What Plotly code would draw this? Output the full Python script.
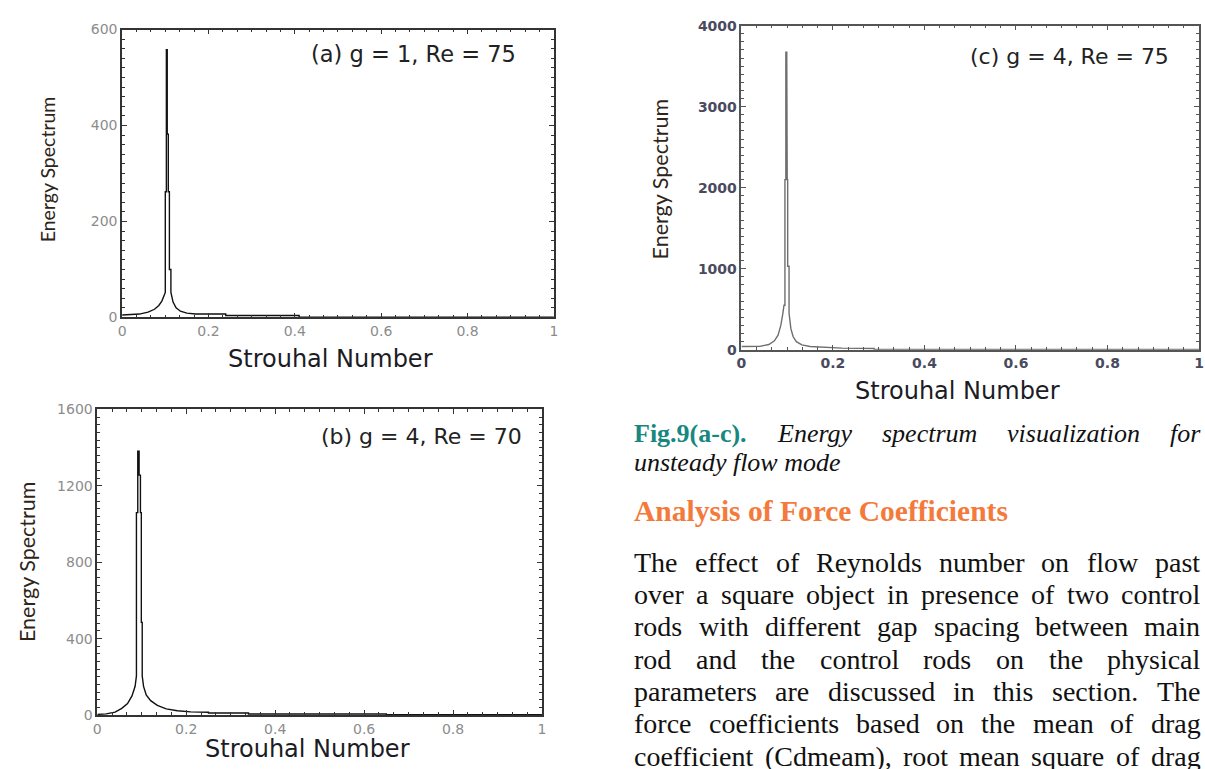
import plotly.graph_objects as go

W, H = 1205, 769

# ---- spectrum data: Strouhal number vs. energy ----
st_a = [0.000, 0.040, 0.060, 0.075, 0.085, 0.092, 0.097, 0.100, 0.100, 0.1025, 0.1025, 0.1045,
        0.1045, 0.107, 0.107, 0.1095, 0.1095, 0.113, 0.113, 0.118, 0.125, 0.135, 0.150, 0.170,
        0.240, 0.240, 0.410, 0.410, 1.000]
es_a = [5, 7, 11, 17, 25, 34, 45, 52, 262, 262, 558, 558, 382, 382, 262, 262, 100, 100, 52,
        32, 20, 13, 9, 7, 7, 4, 4, 0.5, 0.5]

st_b = [0.000, 0.020, 0.040, 0.055, 0.068, 0.078, 0.085, 0.088, 0.088, 0.091, 0.091, 0.094,
        0.094, 0.097, 0.097, 0.099, 0.099, 0.101, 0.101, 0.104, 0.110, 0.120, 0.135, 0.155,
        0.180, 0.210, 0.250, 0.250, 0.340, 0.340, 0.650, 0.650, 1.000]
es_b = [3, 6, 15, 35, 60, 100, 150, 205, 1060, 1060, 1382, 1382, 1256, 1256, 1060, 1060, 485,
        485, 205, 150, 105, 75, 50, 32, 22, 16, 14, 10, 10, 5, 5, 1, 1]

st_c = [0.000, 0.040, 0.060, 0.072, 0.080, 0.086, 0.090, 0.093, 0.095, 0.095, 0.097, 0.097,
        0.099, 0.099, 0.100, 0.100, 0.101, 0.101, 0.104, 0.104, 0.108, 0.113, 0.120, 0.132,
        0.150, 0.180, 0.220, 0.290, 0.290, 1.000]
es_c = [40, 42, 65, 110, 180, 300, 430, 550, 550, 2100, 2100, 3672, 3672, 2643, 2643, 2100,
        2100, 1030, 1030, 450, 260, 160, 100, 60, 40, 28, 20, 15, 3, 3]

x_ticks = [0, 0.2, 0.4, 0.6, 0.8, 1]
x_labels = ["0", "0.2", "0.4", "0.6", "0.8", "1"]
y_ticks_a = [0, 200, 400, 600]
y_ticks_b = [0, 400, 800, 1200, 1600]
y_ticks_c = [0, 1000, 2000, 3000, 4000]

panel_titles = ["(a) g = 1, Re = 75", "(b) g = 4, Re = 70", "(c) g = 4, Re = 75"]
x_title = "Strouhal Number"
y_title = "Energy Spectrum"

caption_head = "Fig.9(a-c)."
caption_line1 = "Energy spectrum visualization for"
caption_line2 = "unsteady flow mode"
section_title = "Analysis of Force Coefficients"
paragraph = [
    "The effect of Reynolds number on flow past",
    "over a square object in presence of two control",
    "rods with different gap spacing between main",
    "rod and the control rods on the physical",
    "parameters are discussed in this section. The",
    "force coefficients based on the mean of drag",
    "coefficient (Cdmeam), root mean square of drag",
]


def px(x):
    return x / W


def py(y):
    return 1 - y / H


fig = go.Figure()

panels = [
    dict(st=st_a, es=es_a, ax="", xd=(118, 553), yd=(22, 316), yt=y_ticks_a, col="#111111"),
    dict(st=st_b, es=es_b, ax="2", xd=(93, 541), yd=(410, 722), yt=y_ticks_b, col="#111111"),
    dict(st=st_c, es=es_c, ax="3", xd=(742, 1203), yd=(18, 349), yt=y_ticks_c, col="#6e6e6e"),
]

for i, p in enumerate(panels):
    fig.add_trace(go.Scatter(
        x=p["st"], y=p["es"], mode="lines",
        line=dict(color=p["col"], width=1.4),
        xaxis="x" + p["ax"], yaxis="y" + p["ax"], showlegend=False, hoverinfo="skip",
    ))
    bold = (i == 2)
    tick_font = dict(family="DejaVu Sans", size=14,
                     color="#4a4a5e" if bold else "#8c8c8c",
                     weight="bold" if bold else "normal")
    ymax = p["yt"][-1]
    axcol = "#333333" if not bold else "#555555"
    common = dict(showgrid=False, zeroline=False, showline=True, linecolor=axcol, linewidth=1.6,
                  mirror="allticks", ticks="inside", tickcolor=axcol, tickwidth=1.3, ticklen=5,
                  tickfont=tick_font)
    fig.update_layout(**{
        "xaxis" + p["ax"]: dict(
            domain=[px(p["xd"][0]), px(p["xd"][1])], range=[0, 1],
            anchor="y" + p["ax"], tickvals=x_ticks, ticktext=x_labels,
            minor=dict(ticks="inside", ticklen=3, dtick=0.2 / 6, tickcolor=axcol, tickwidth=1),
            **common),
        "yaxis" + p["ax"]: dict(
            domain=[py(p["yd"][1]), py(p["yd"][0])], range=[0, ymax],
            anchor="x" + p["ax"], tickvals=p["yt"],
            minor=dict(ticks="inside", ticklen=3, dtick=(p["yt"][1] - p["yt"][0]) / 10,
                       tickcolor=axcol, tickwidth=1),
            **common),
    })

annotations = []

# panel labels and axis titles
for title, (xr, yc, sz) in zip(panel_titles, [(517, 47, 22.5), (523, 438, 22), (1175, 50, 22)]):
    annotations.append(dict(text=title, x=px(xr), y=py(yc), xref="paper", yref="paper",
                            xanchor="right", yanchor="middle", showarrow=False,
                            font=dict(family="DejaVu Sans", size=sz, color="#222222")))

for (xc, yc) in [(328, 358), (305, 757), (960, 391)]:
    annotations.append(dict(text=x_title, x=px(xc), y=py(yc), xref="paper", yref="paper",
                            xanchor="center", yanchor="middle", showarrow=False,
                            font=dict(family="DejaVu Sans", size=24, color="#1c1c24")))
for (xc, yc, sz) in [(43, 165, 19.5), (22, 565, 21.5), (660, 175, 21.5)]:
    annotations.append(dict(text=y_title, x=px(xc), y=py(yc), xref="paper", yref="paper",
                            xanchor="center", yanchor="middle", textangle=-90, showarrow=False,
                            font=dict(family="Lato", size=sz, color="#2e2418")))

# Times metrics (per 1000 em) for justified text layout
TIMES = dict(zip("abcdefghijklmnopqrstuvwxyz",
                 [444, 500, 444, 500, 444, 333, 500, 500, 278, 278, 500, 278, 778, 500, 500, 500,
                  500, 333, 389, 278, 500, 500, 722, 500, 500, 444]))
TIMES.update(dict(zip("ABCDEFGHIJKLMNOPQRSTUVWXYZ",
                      [722, 667, 667, 722, 611, 556, 722, 722, 333, 389, 722, 611, 889, 722, 722,
                       556, 722, 667, 556, 611, 722, 722, 944, 722, 722, 611])))
TIMES.update({".": 250, ",": 250, "(": 333, ")": 333, "-": 333, " ": 250})
ITALIC = dict(zip("abcdefghijklmnopqrstuvwxyz",
                  [500, 500, 444, 500, 444, 278, 500, 500, 278, 278, 444, 278, 722, 500, 500, 500,
                   500, 389, 389, 278, 500, 444, 667, 444, 444, 389]))
ITALIC.update({"E": 611, " ": 250})


def width(word, table, size):
    return sum(table.get(ch, 500) for ch in word) * size / 1000.0


def justify(words, table, size, x0, x1):
    widths = [width(w, table, size) for w in words]
    gap = (x1 - x0 - sum(widths)) / max(len(words) - 1, 1)
    xs, x = [], x0
    for w in widths:
        xs.append(x)
        x += w + gap
    return xs


def place(word, x, y, font):
    annotations.append(dict(text=word, x=px(x), y=py(y), xref="paper", yref="paper",
                            xanchor="left", yanchor="middle", showarrow=False, font=font,
                            borderpad=0))


X0, X1 = 633, 1203
serif = "Liberation Serif"

# caption
cap_size = 26
place(caption_head, X0, 435, dict(family=serif, size=cap_size, color="#17877f", weight="bold"))
cap_words = caption_line1.split()
for w, x in zip(cap_words, justify(cap_words, ITALIC, cap_size, 777, X1)):
    place(w, x, 435, dict(family=serif, size=cap_size, color="#111111", style="italic"))
place(caption_line2, X0, 464, dict(family=serif, size=cap_size, color="#111111", style="italic"))

# section heading
place(section_title, X0, 514, dict(family=serif, size=29.5, color="#f47a3c", weight="bold"))

# body paragraph, justified
body_size = 28
for k, line in enumerate(paragraph):
    yline = 566 + 33 * k
    words = line.split()
    for w, x in zip(words, justify(words, TIMES, body_size, X0, X1)):
        place(w, x, yline, dict(family=serif, size=body_size, color="#111111"))

fig.update_layout(
    width=W, height=H, margin=dict(l=0, r=0, t=0, b=0),
    paper_bgcolor="white", plot_bgcolor="white",
    annotations=annotations, showlegend=False,
)

fig.write_html("out.html")
